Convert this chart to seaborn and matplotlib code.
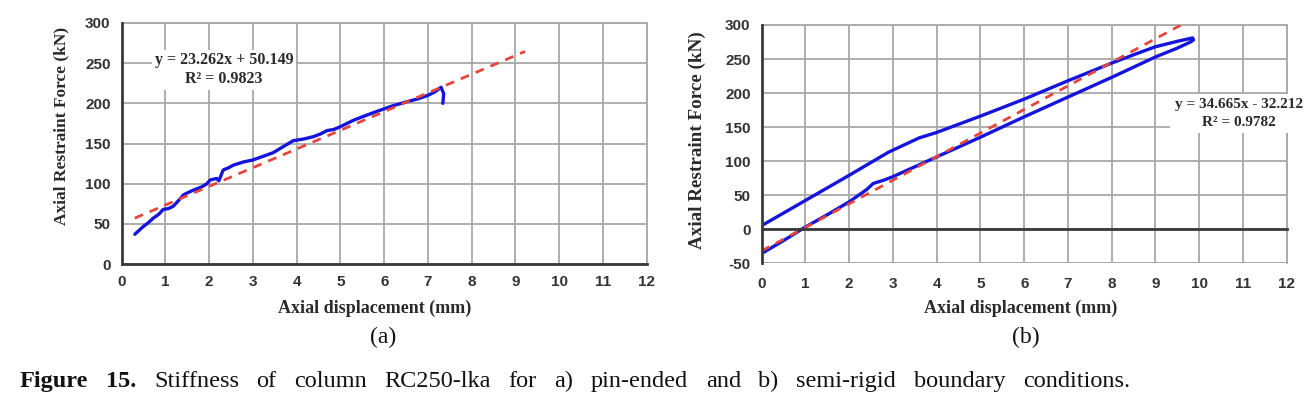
import numpy as np
import pandas as pd
import matplotlib
matplotlib.use("Agg")
import matplotlib.pyplot as plt
import seaborn as sns

# ---------------- data ----------------
# (a) pin-ended
a_disp = [0.30, 0.40, 0.49, 0.60, 0.72, 0.85, 0.95, 1.07, 1.18, 1.30, 1.41, 1.52, 1.64,
          1.83, 1.95, 2.02, 2.17, 2.22, 2.32, 2.45, 2.55, 2.78, 3.00, 3.23, 3.46, 3.69,
          3.92, 4.15, 4.38, 4.55, 4.69, 4.85, 5.00, 5.30, 5.61, 5.91, 6.20, 6.52, 6.80,
          7.00, 7.15, 7.30, 7.36, 7.34]
a_force = [37, 42, 46.5, 51, 57, 62, 68, 69, 72, 79, 86, 89, 92,
           96, 100, 104.5, 106.5, 103.5, 117, 120, 123, 127, 129.5, 134, 138.5, 146,
           153.5, 155.5, 158.5, 162, 166, 167.5, 171, 179, 185.5, 191.5, 197, 202, 206,
           210, 214, 220, 212, 200]
a_fit_slope, a_fit_intercept = 23.262, 50.149
a_fit_x = [0.3, 9.22]
a_eq = "y = 23.262x + 50.149\nR² = 0.9823"

# (b) semi-rigid (loading branch then unloading branch)
b_disp = [0.00, 0.50, 1.00, 1.50, 2.00, 2.40, 2.55, 2.80, 3.00, 4.00, 5.00, 6.00, 7.00,
          8.00, 9.00, 9.50, 9.80, 9.87, 9.85, 9.50, 9.00, 8.70, 8.00, 7.00, 6.00, 5.00,
          4.00, 3.60, 2.90, 2.00, 1.00, 0.00]
b_force = [-36, -17, 3, 21, 40, 58, 67, 72, 77, 106, 135, 165, 194,
           223, 253, 266, 275, 278, 281, 276, 268, 261, 244, 218, 191, 166,
           142, 134, 113, 79, 42, 5]
b_fit_slope, b_fit_intercept = 34.665, -32.212
b_fit_x = [0.0, 9.7]
b_eq = "y = 34.665x - 32.212\nR² = 0.9782"

x_ticks = list(range(0, 13))
a_y_ticks = [0, 50, 100, 150, 200, 250, 300]
b_y_ticks = [-50, 0, 50, 100, 150, 200, 250, 300]

x_label = "Axial displacement (mm)"
y_label = "Axial Restraint Force (kN)"
panel_labels = ["(a)", "(b)"]
cap_bold = "Figure 15."
cap_rest = "Stiffness of column RC250-lka for a) pin-ended and b) semi-rigid boundary conditions."

# ---------------- style ----------------
sns.set_style("white")
plt.rcParams['font.family'] = ['Liberation Sans', 'DejaVu Sans']
plt.rcParams['axes.unicode_minus'] = False

BLUE = "#1414dc"
RED = "#e6453c"
GRID = "#a8a8a8"
AXC = "#3a3a3a"
TXT = "#2a2a2a"
SERIF = ['Liberation Serif', 'DejaVu Serif']

W, H = 1316, 419
fig = plt.figure(figsize=(W / 100, H / 100), dpi=100)


def rect(x0, x1, ytop, ybot):
    return [x0 / W, 1 - ybot / H, (x1 - x0) / W, (ybot - ytop) / H]


ax1 = fig.add_axes(rect(121.7, 646.7, 23, 264))
ax2 = fig.add_axes(rect(761.7, 1286.7, 25, 263))

df_a = pd.DataFrame({"disp": a_disp, "force": a_force})
df_b = pd.DataFrame({"disp": b_disp, "force": b_force})
fit_a = pd.DataFrame({"disp": a_fit_x,
                      "force": [a_fit_slope * v + a_fit_intercept for v in a_fit_x]})
fit_b = pd.DataFrame({"disp": b_fit_x,
                      "force": [b_fit_slope * v + b_fit_intercept for v in b_fit_x]})

for ax, df, fit, yt in [(ax1, df_a, fit_a, a_y_ticks), (ax2, df_b, fit_b, b_y_ticks)]:
    sns.lineplot(data=df, x="disp", y="force", sort=False, estimator=None,
                 color=BLUE, lw=2.4, ax=ax, zorder=3)
    sns.lineplot(data=fit, x="disp", y="force", sort=False, estimator=None,
                 color=RED, lw=2.0, linestyle=(0, (3.2, 2.6)), ax=ax, zorder=4)
    ax.set_xlim(x_ticks[0], x_ticks[-1])
    ax.set_ylim(yt[0], yt[-1])
    ax.set_xticks(x_ticks)
    ax.set_yticks(yt)
    ax.set_axisbelow(True)
    ax.grid(True, color=GRID, lw=1.3)
    ax.set_xlabel("")
    ax.set_ylabel("")
    for s in ["top", "right"]:
        ax.spines[s].set_color(GRID)
        ax.spines[s].set_linewidth(1.3)
    for s in ["left", "bottom"]:
        ax.spines[s].set_color(AXC)
        ax.spines[s].set_linewidth(2.0)
        ax.spines[s].set_zorder(5)
    ax.tick_params(direction="inout", length=6, width=1.5, color=AXC,
                   labelsize=11, labelcolor="#333333", pad=5)

# right panel: x axis line at y = 0, tick labels below the frame
ax2.spines["bottom"].set_position(("data", 0))
ax2.tick_params(axis="x", pad=31.5)
ax2.axhline(b_y_ticks[0], color=GRID, lw=1.3, zorder=0)

for ax in (ax1, ax2):
    for lab in ax.get_xticklabels() + ax.get_yticklabels():
        lab.set_fontweight("bold")

# equations
ax1.text(2.34, 242, a_eq, ha="center", va="center", multialignment="center",
         family=SERIF, fontweight="bold", fontsize=11.5, color=TXT, zorder=6,
         linespacing=1.2,
         bbox=dict(facecolor="white", edgecolor="none", pad=2))
ax2.text(10.9, 169.5, b_eq, ha="center", va="center", multialignment="center",
         family=SERIF, fontweight="bold", fontsize=11, color=TXT, zorder=6,
         linespacing=1.45, clip_on=False,
         bbox=dict(facecolor="white", edgecolor="none", pad=3))

# axis labels
for xc, yl_x, yl_y, yl_fs in [(375, 61, 126, 12.5), (1021, 697, 140, 13.8)]:
    fig.text(xc / W, 1 - 308 / H, x_label, ha="center", va="center",
             family=SERIF, fontweight="bold", fontsize=13, color=TXT)
    fig.text(yl_x / W, 1 - yl_y / H, y_label, ha="center", va="center",
             rotation=90, family=SERIF, fontweight="bold", fontsize=yl_fs, color=TXT)
for lab, pl_x in zip(panel_labels, [383, 1026]):
    fig.text(pl_x / W, 1 - 337 / H, lab, ha="center", va="center",
             family=SERIF, fontsize=17, color="#111111")

# justified caption
words = [(w, "bold") for w in cap_bold.split()] + [(w, "normal") for w in cap_rest.split()]
renderer = fig.canvas.get_renderer()
texts = []
widths = []
for w, fw in words:
    t = fig.text(0, 1 - 381 / H, w, ha="left", va="center", family=SERIF,
                 fontweight=fw, fontsize=17.5, color="#111111")
    texts.append(t)
    widths.append(t.get_window_extent(renderer).width)
x_start, x_end = 20, 1130
gap = (x_end - x_start - sum(widths)) / (len(words) - 1)
x = x_start
for t, wd in zip(texts, widths):
    t.set_x(x / W)
    x += wd + gap

fig.savefig("out.png", dpi=100)
